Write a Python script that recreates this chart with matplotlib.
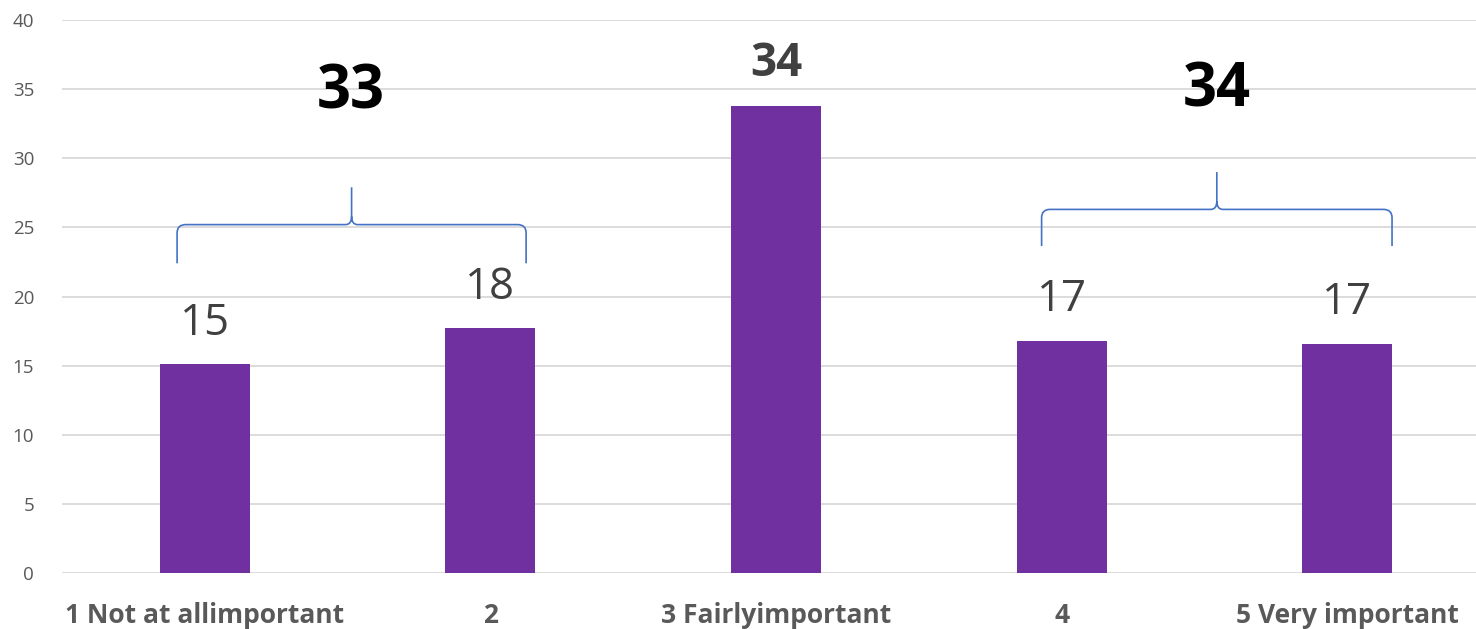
import matplotlib
matplotlib.use("Agg")
import matplotlib.pyplot as plt
from matplotlib.path import Path
from matplotlib.patches import PathPatch

categories = ["1 Not at allimportant", "2", "3 Fairlyimportant", "4", "5 Very important"]
values = [15.1, 17.7, 33.8, 16.8, 16.6]
value_labels = ["15", "18", "34", "17", "17"]
group_totals = ["33", "34"]
y_ticks = [0, 5, 10, 15, 20, 25, 30, 35, 40]

BAR = "#7030A0"
GRID = "#D9D9D9"
BRACE = "#4472C4"

fig = plt.figure(figsize=(14.76, 6.29), dpi=100)
ax = fig.add_axes([62 / 1476, 56 / 629, 1 - 62 / 1476, 553 / 629])

x = list(range(len(categories)))
ax.bar(x, values, width=0.315, color=BAR, zorder=3)

ax.set_ylim(0, 40)
ax.set_xlim(-0.5, 4.451)
ax.set_yticks(y_ticks)
ax.set_yticklabels([str(t) for t in y_ticks], fontsize=13.5, color="#595959",
                   family="Open Sans")
ax.set_xticks(x)
ax.set_xticklabels(categories, fontsize=19, fontweight="bold", color="#595959",
                   family="Open Sans")
ax.tick_params(axis="y", length=0, pad=20)
ax.tick_params(axis="x", length=0, pad=21)
ax.grid(axis="y", color=GRID, linewidth=1.3, zorder=0)
for s in ax.spines.values():
    s.set_visible(False)

# value labels above bars; the middle category is emphasised
for i, (v, lab) in enumerate(zip(values, value_labels)):
    bold = (i == 2)
    ax.text(i, v + 1.35, lab, ha="center", va="bottom",
            fontsize=33 if bold else 31.5,
            color="#404040", family="Open Sans",
            fontweight="bold" if bold else "normal", zorder=4)


def brace(x0, x1, y_bot, y_mid, y_tip, r=0.03, ry=0.6):
    xc = (x0 + x1) / 2
    verts = [
        (x0, y_bot), (x0, y_mid - ry), (x0, y_mid), (x0 + r, y_mid),
        (xc - r * 0.7, y_mid), (xc, y_mid), (xc, y_mid + ry), (xc, y_tip),
        (xc, y_mid + ry), (xc, y_mid), (xc + r * 0.7, y_mid),
        (x1 - r, y_mid), (x1, y_mid), (x1, y_mid - ry), (x1, y_bot),
    ]
    codes = [Path.MOVETO, Path.LINETO, Path.CURVE3, Path.CURVE3,
             Path.LINETO, Path.CURVE3, Path.CURVE3, Path.LINETO,
             Path.MOVETO, Path.CURVE3, Path.CURVE3,
             Path.LINETO, Path.CURVE3, Path.CURVE3, Path.LINETO]
    ax.add_patch(PathPatch(Path(verts, codes), fill=False, edgecolor=BRACE,
                           linewidth=1.2, zorder=4, clip_on=False))


brace(-0.097, 1.125, 22.4, 25.2, 27.9)
brace(2.93, 4.157, 23.65, 26.3, 29.0)

ax.text(0.512, 34.7, group_totals[0], ha="center", va="center", fontsize=43,
        fontweight="bold", color="black", family="Open Sans")
ax.text(3.544, 34.9, group_totals[1], ha="center", va="center", fontsize=43,
        fontweight="bold", color="black", family="Open Sans")

fig.savefig("out.png", dpi=100)
